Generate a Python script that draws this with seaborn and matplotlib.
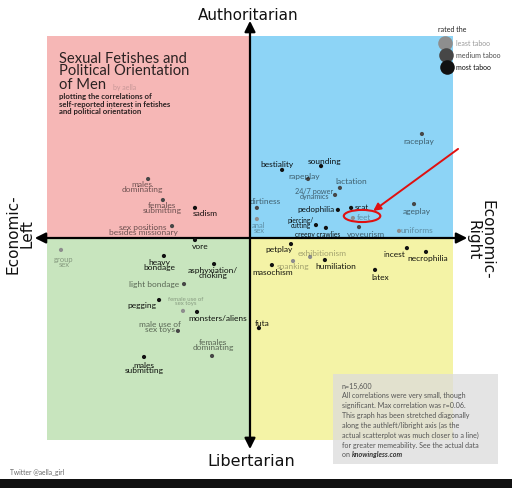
import matplotlib
matplotlib.use("Agg")
import matplotlib.pyplot as plt
import seaborn as sns
import pandas as pd
from matplotlib.patches import Rectangle, Ellipse

# ---------------- data ----------------
names = ["males dominating", "females submitting", "sadism", "sex positions besides missionary",
         "raceplay", "bestiality", "sounding", "rapeplay", "lactation", "24/7 power dynamics",
         "dirtiness", "pedophilia", "scat", "feet", "ageplay", "anal sex", "piercing/cutting",
         "creepy crawlies", "voyeurism", "uniforms",
         "vore", "group sex", "heavy bondage", "asphyxiation/choking", "light bondage", "pegging",
         "female use of sex toys", "monsters/aliens", "male use of sex toys", "females dominating",
         "males submitting",
         "petplay", "exhibitionism", "spanking", "humiliation", "masochism", "incest",
         "necrophilia", "latex", "futa"]
labels = ["males\ndominating", "females\nsubmitting", "sadism", "sex positions\nbesides missionary",
          "raceplay", "bestiality", "sounding", "rapeplay", "lactation", "24/7 power\ndynamics",
          "dirtiness", "pedophilia", "scat", "feet", "ageplay", "anal\nsex", "piercing/\ncutting",
          "creepy crawlies", "voyeurism", "uniforms",
          "vore", "group\nsex", "heavy\nbondage", "asphyxiation/\nchoking", "light bondage", "pegging",
          "female use of\nsex toys", "monsters/aliens", "male use of\nsex toys", "females\ndominating",
          "males\nsubmitting",
          "petplay", "exhibitionism", "spanking", "humiliation", "masochism", "incest",
          "necrophilia", "latex", "futa"]
economic = [-5.02, -4.29, -2.71, -3.84,
            8.47, 1.58, 3.50, 2.86, 4.43, 4.19,
            0.34, 4.33, 4.98, 5.07, 8.08, 0.34, 3.25,
            3.74, 5.37, 7.34,
            -2.71, -9.31, -4.24, -1.77, -3.25, -4.48,
            -3.30, -2.61, -3.55, -1.87,
            -5.22,
            2.02, 2.96, 2.12, 3.69, 1.08, 7.73,
            8.67, 6.16, 0.44]
authority = [2.92, 1.88, 1.49, 0.59,
             5.15, 3.37, 3.56, 2.92, 2.48, 2.13,
             1.49, 1.39, 1.49, 0.99, 1.68, 0.94, 0.64,
             0.50, 0.54, 0.35,
             -0.10, -0.59, -0.89, -1.29, -2.28, -3.07,
             -3.61, -3.66, -4.60, -5.84,
             -5.89,
             -0.30, -0.94, -1.14, -1.09, -1.34, -0.50,
             -0.69, -1.58, -4.46]
taboo = ["medium", "medium", "most", "medium",
         "medium", "most", "most", "medium", "medium", "medium",
         "medium", "most", "most", "least", "medium", "least", "most",
         "most", "medium", "least",
         "most", "least", "most", "most", "medium", "most",
         "least", "most", "medium", "medium",
         "most",
         "most", "least", "least", "most", "most", "most",
         "most", "most", "most"]
taboo_levels = ["least", "medium", "most"]
legend_labels = ["least taboo", "medium taboo", "most taboo"]

df = pd.DataFrame({"name": names, "label": labels, "economic": economic,
                   "authority": authority, "taboo": taboo})

# ---------------- style / layout ----------------
sns.set_theme(style="white")
plt.rcParams["font.family"] = ["Lato", "DejaVu Sans"]

dot_colors = {"least": "#8e8e8e", "medium": "#474747", "most": "#111111"}
text_alpha = {"least": 0.33, "medium": 0.55, "most": 0.92}

# label offsets in pixels (dx right, dy down) and font size
label_layout = {
    "males dominating": (-6, 7, 6), "females submitting": (-1, 7, 6), "sadism": (10, 5, 6),
    "sex positions besides missionary": (-29, 3, 6),
    "raceplay": (-3, 7, 6), "bestiality": (-5, -6, 6), "sounding": (3, -6, 6),
    "rapeplay": (-4, -4, 6), "lactation": (11, -7, 6), "24/7 power dynamics": (-21, -2, 5.2),
    "dirtiness": (8, -7, 6), "pedophilia": (-22, -1, 5.8), "scat": (11, -1, 5.8),
    "feet": (11, -2, 5.8), "ageplay": (3, 6, 6), "anal sex": (2, 8, 5.5),
    "piercing/cutting": (-15, -3, 4.8), "creepy crawlies": (-8, 6, 4.8),
    "voyeurism": (7, 6, 6), "uniforms": (18, -1, 6),
    "vore": (5, 5, 6), "group sex": (3, 11, 5.5), "heavy bondage": (-5, 8, 6),
    "asphyxiation/choking": (-1, 8, 6), "light bondage": (-30, -1, 6), "pegging": (-17, 4, 6),
    "female use of sex toys": (3, -10, 4.3), "monsters/aliens": (21, 6, 6),
    "male use of sex toys": (-18, -5, 6), "females dominating": (1, -12, 6),
    "males submitting": (0, 10, 6),
    "petplay": (-12, 4, 6), "exhibitionism": (12, -4, 6), "spanking": (0, 4, 6),
    "humiliation": (11, 5, 6), "masochism": (1, 6, 6), "incest": (-13, 5, 6),
    "necrophilia": (2, 6, 6), "latex": (5, 7, 6), "futa": (3, -6, 6),
}

W, H = 512, 489
fig = plt.figure(figsize=(W / 100, H / 100), dpi=100)
fig.patch.set_facecolor("white")
ax = fig.add_axes([47 / W, 1 - 441 / H, 406 / W, 404 / H])
ax.set_xlim(-10, 10)
ax.set_ylim(-10, 10)
ax.axis("off")

# quadrants
quad = [((-10, 0), "#f6b7b6"), ((0, 0), "#8dd4f6"), ((-10, -10), "#c8e5be"), ((0, -10), "#f4f3a6")]
for (x0, y0), c in quad:
    ax.add_patch(Rectangle((x0, y0), 10, 10, facecolor=c, edgecolor="none", zorder=0))

# axis arrows
arrow_kw = dict(arrowstyle="-|>", color="black", lw=1.6, mutation_scale=16, shrinkA=0, shrinkB=0)
for tip in [(0, 10.75), (0, -10.45), (-10.6, 0), (10.7, 0)]:
    ax.annotate("", xy=tip, xytext=(0, 0), xycoords="data", arrowprops=arrow_kw,
                annotation_clip=False, zorder=2)

# points
sns.scatterplot(data=df, x="economic", y="authority", hue="taboo", palette=dot_colors,
                hue_order=taboo_levels, s=9, linewidth=0, legend=False, ax=ax, zorder=3)

for _, r in df.iterrows():
    dx, dy, fs = label_layout[r["name"]]
    ax.annotate(r["label"], xy=(r["economic"], r["authority"]), xytext=(dx, -dy),
                textcoords="offset pixels", ha="center", va="center", fontsize=fs,
                color="black", alpha=text_alpha[r["taboo"]], linespacing=0.75, zorder=4,
                annotation_clip=False)

# red highlight on "feet"
feet = df[df["name"] == "feet"].iloc[0]
ax.add_patch(Ellipse((feet["economic"] + 0.45, feet["authority"] + 0.1), 1.8, 0.6,
                     facecolor="none", edgecolor="#e01010", lw=1.5, zorder=5))
ax.annotate("", xy=(feet["economic"] + 1.0, feet["authority"] + 0.35), xytext=(10.25, 4.41),
            arrowprops=dict(arrowstyle="-|>", color="#e01010", lw=1.4, mutation_scale=11,
                            shrinkA=0, shrinkB=0), annotation_clip=False, zorder=5)

# ---------------- texts ----------------
def fx(px):
    return px / W

def fy(py):
    return 1 - py / H

fig.text(fx(248), fy(15), "Authoritarian", ha="center", va="center", fontsize=11,
         family="DejaVu Sans", color="#111111")
fig.text(fx(251), fy(462), "Libertarian", ha="center", va="center", fontsize=11.5,
         family="DejaVu Sans", color="#111111")
fig.text(fx(20), fy(234), "Economic-\nLeft", ha="center", va="center", fontsize=11,
         rotation=90, linespacing=0.95, family="DejaVu Sans", color="#111111")
fig.text(fx(480), fy(240), "Economic-\nRight", ha="center", va="center", fontsize=11,
         rotation=270, linespacing=0.95, family="DejaVu Sans", color="#111111")

fig.text(fx(59), fy(65), "Sexual Fetishes and\nPolitical Orientation", ha="left",
         va="center", fontsize=10.6, linespacing=0.9, color="#2b2222")
fig.text(fx(59), fy(85), "of Men", ha="left", va="center", fontsize=10.6, color="#2b2222")
fig.text(fx(113), fy(87.5), "by aella", ha="left", va="center", fontsize=5, color="#c89898")
fig.text(fx(59), fy(104), "plotting the correlations of\nself-reported interest in fetishes\nand political orientation",
         ha="left", va="center", fontsize=5.6, linespacing=1.05, color="#2b2222", weight="bold")

# legend
fig.text(fx(452), fy(30), "rated the", ha="center", va="center", fontsize=5, color="#222222")
leg_ax = fig.add_axes([0, 0, 1, 1], facecolor="none")
leg_ax.set_xlim(0, W)
leg_ax.set_ylim(H, 0)
leg_ax.axis("off")
leg_alpha = [0.4, 0.7, 0.95]
for i, (lvl, lab) in enumerate(zip(taboo_levels, legend_labels)):
    yy = 44 + 12 * i
    leg_ax.scatter([445 + i], [yy], s=110, color=dot_colors[lvl], linewidth=0, zorder=3 + i)
    leg_ax.text(456, yy, lab, ha="left", va="center", fontsize=5, color="black",
                alpha=leg_alpha[i])

# note box
leg_ax.add_patch(Rectangle((333, 375), 165, 90, facecolor="#dcdcdc", edgecolor="none",
                           alpha=0.75, zorder=1))
note_lines = ["n=15,600",
              "All correlations were very small, though",
              "significant. Max correlation was r=0.06.",
              "This graph has been stretched diagonally",
              "along the authleft/libright axis (as the",
              "actual scatterplot was much closer to a line)",
              "for greater memeability. See the actual data"]
for i, line in enumerate(note_lines):
    leg_ax.text(342, 386 + 9.85 * i, line, ha="left", va="center", fontsize=5.1, color="#555555",
                zorder=2)
t_on = leg_ax.text(342, 386 + 9.85 * 7, "on ", ha="left", va="center", fontsize=5.1,
                   color="#555555", zorder=2)
leg_ax.annotate("knowingless.com", xy=(1, 0.5), xycoords=t_on, ha="left", va="center",
                fontsize=5.1, color="#333333", weight="bold", style="italic", zorder=2)

leg_ax.text(10, 472, "Twitter @aella_girl", ha="left", va="center", fontsize=4.8, color="#666666")

# bottom dark band
leg_ax.add_patch(Rectangle((0, 480), W, 9, facecolor="#111111", edgecolor="none", zorder=1))

fig.savefig("out.png", dpi=100, facecolor="white")
